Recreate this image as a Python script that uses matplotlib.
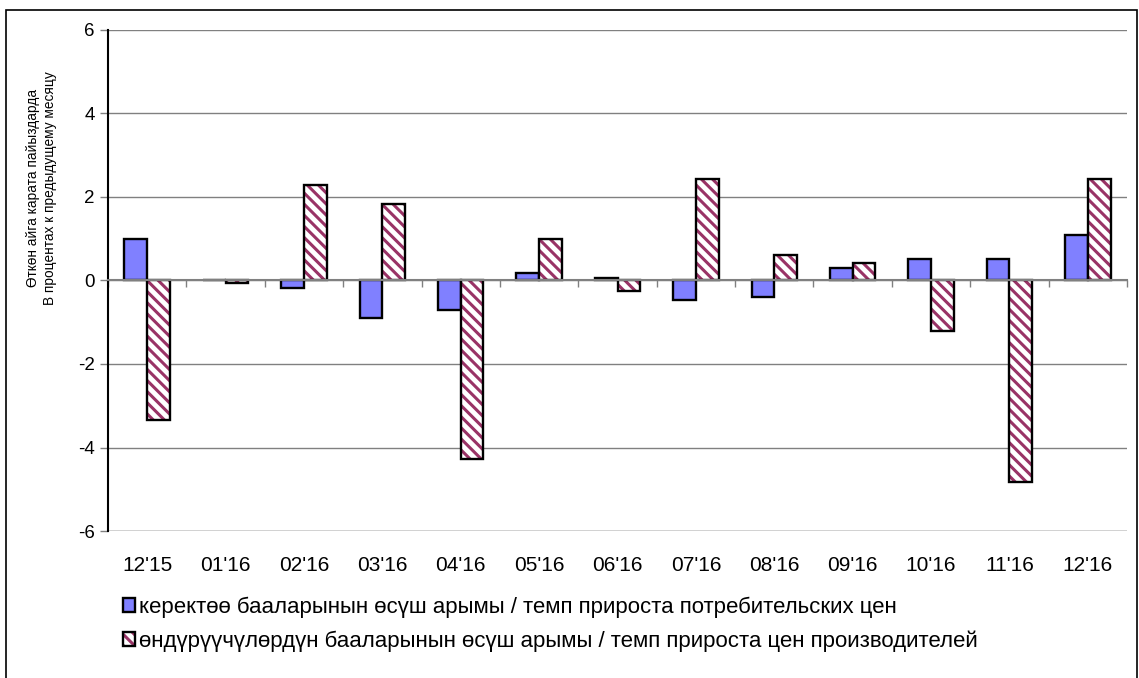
import numpy as np
import matplotlib.pyplot as plt
from matplotlib.patches import Rectangle
from matplotlib.legend_handler import HandlerTuple

plt.rcParams['font.family'] = ['Liberation Sans', 'DejaVu Sans']
plt.rcParams['hatch.linewidth'] = 2.2

# Data
months = ["12'15", "01'16", "02'16", "03'16", "04'16", "05'16", "06'16",
          "07'16", "08'16", "09'16", "10'16", "11'16", "12'16"]
cpi = [1.0, 0.0, -0.19, -0.9, -0.7, 0.19, 0.05, -0.46, -0.4, 0.31, 0.52, 0.52, 1.1]
ppi = [-3.33, -0.07, 2.28, 1.84, -4.28, 1.0, -0.26, 2.42, 0.62, 0.43, -1.22, -4.83, 2.42]

label_cpi = 'керектөө бааларынын өсүш арымы / темп прироста потребительских цен'
label_ppi = 'өндүрүүчүлөрдүн бааларынын өсүш арымы / темп прироста цен производителей'
ylab = 'Өткөн айга карата пайыздарда\nВ процентах к предыдущему месяцу'

fig = plt.figure(figsize=(11.39, 6.78), dpi=100)
ax = fig.add_axes([0.0948, 0.2168, 0.8947, 0.739])

x = np.arange(len(months))
w = 0.29
b1 = ax.bar(x - w / 2, cpi, w, color='#8080ff', edgecolor='black', linewidth=1.7,
            zorder=3)
# hatch drawn in maroon, outline drawn separately in black
b2h = ax.bar(x + w / 2, ppi, w, color='white', edgecolor='#993366', linewidth=0,
             hatch='\\\\\\', zorder=3)
b2o = ax.bar(x + w / 2, ppi, w, fill=False, edgecolor='black', linewidth=1.7,
             zorder=3.1)

ax.set_xlim(-0.5, len(months) - 0.5)
ax.set_ylim(-6, 6)
ax.set_yticks([-6, -4, -2, 0, 2, 4, 6])
ax.set_yticklabels(['-6', '-4', '-2', '0', '2', '4', '6'], fontsize=13.5)
ax.tick_params(axis='y', length=6, color='#808080', width=1)
ax.yaxis.grid(True, color='#808080', linewidth=1)
ax.axhline(-6, color='#808080', linewidth=1, zorder=0.5)
ax.set_axisbelow(True)
ax.set_ylabel(ylab, fontsize=9.8, linespacing=1.25)
ax.yaxis.set_label_coords(-0.05, 0.685)

# zero axis with ticks between categories
for s in ['top', 'right']:
    ax.spines[s].set_visible(False)
ax.spines['left'].set_linewidth(1.5)
ax.spines['bottom'].set_position(('data', 0))
ax.spines['bottom'].set_color('#808080')
ax.spines['bottom'].set_linewidth(1.5)
ax.spines['bottom'].set_zorder(4)
ax.set_xticks(np.arange(len(months) + 1) - 0.5)
ax.set_xticklabels([])
ax.tick_params(axis='x', length=5, color='#808080', width=1, direction='out')

# month labels at the bottom
sec = ax.secondary_xaxis('bottom')
sec.set_xticks(x)
sec.set_xticklabels(months, fontsize=15)
sec.tick_params(length=0, pad=18)
sec.spines['bottom'].set_visible(False)

fig.legend([b1[0], (b2h[0], b2o[0])], [label_cpi, label_ppi],
           handler_map={tuple: HandlerTuple(ndivide=1, pad=0)},
           loc='upper left', bbox_to_anchor=(0.108, 0.12), frameon=False,
           fontsize=16, handlelength=0.55, handleheight=0.6, handletextpad=0.15,
           labelspacing=0.55, borderaxespad=0, borderpad=0)

fig.patches.append(Rectangle((0.005, -0.05), 0.993, 1.035, transform=fig.transFigure,
                             fill=False, edgecolor='black', linewidth=1.2))

fig.savefig('out.png', dpi=100)
